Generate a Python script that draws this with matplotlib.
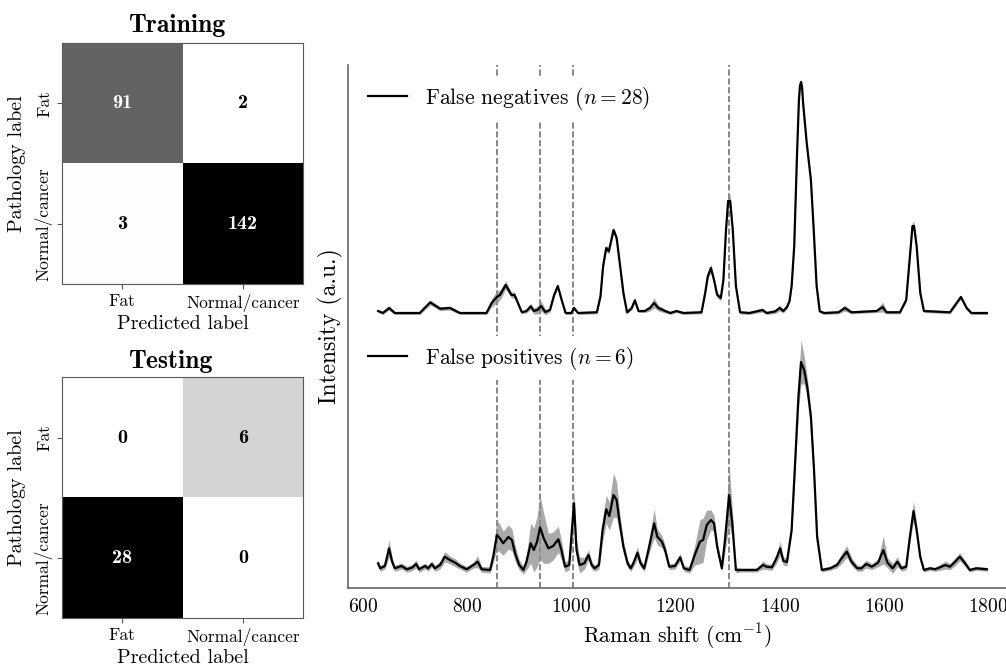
import numpy as np
import matplotlib
matplotlib.use('Agg')
import matplotlib.pyplot as plt
from matplotlib.lines import Line2D
from matplotlib.colors import PowerNorm

plt.rcParams['font.family'] = 'cmr10'
plt.rcParams['mathtext.fontset'] = 'cm'
plt.rcParams['axes.unicode_minus'] = False
plt.rcParams['axes.formatter.use_mathtext'] = True

# confusion matrices
class_names = ['Fat', 'Normal/cancer']
cm_train = np.array([[91, 2], [3, 142]])
cm_test = np.array([[0, 6], [28, 0]])

# mean spectra of the misclassified spectra (a.u.), with spread
fn_shift = [629, 638, 650, 661, 709, 729, 748, 767, 786, 837, 847, 857, 863, 874, 885, 891,
            895, 905, 914, 922, 928, 935, 942, 950, 959, 967, 974, 982, 989, 1000, 1005, 1013,
            1049, 1056, 1061, 1067, 1072, 1081, 1087, 1093, 1100, 1107, 1116, 1122, 1129, 1141,
            1151, 1159, 1167, 1180, 1190, 1202, 1215, 1250, 1257, 1262, 1268, 1274, 1280, 1287,
            1292, 1297, 1301, 1305, 1310, 1316, 1324, 1342,
            1367, 1375, 1391, 1400, 1407, 1414, 1419, 1423, 1428, 1433, 1437, 1439, 1441, 1443,
            1445, 1452, 1460, 1465, 1471, 1477, 1485, 1513, 1525, 1538, 1586, 1598, 1605, 1631,
            1643, 1649, 1655, 1658, 1663, 1670, 1677, 1727, 1737, 1748, 1759, 1768, 1798]
fn_mean = [2, 0, 5, 0, 0, 10.6, 4.3, 5, 0, 0, 10, 16, 18, 28, 18, 18,
           13, 0.7, 2, 6.7, 2, 3, 7, 1, 3, 18, 27, 12, 0, 0, 5, 0,
           0.7, 16.7, 46.7, 65, 61.7, 83, 75, 50, 20, 0.7, 5, 12.7, 2, 2,
           5, 10, 5, 2, 0, 2, 0, 0.7, 20, 36.7, 45, 33, 18, 15,
           33, 83, 112, 112, 83, 27, 0.7, 0,
           3, 0, 1.5, 5, 2, 6, 12, 27, 67, 153, 213, 227, 231, 226,
           210, 170, 133, 87, 27, 1.7, 0, 0.7, 5, 0.7, 2, 6, 0.7, 0.7,
           13, 50, 87, 87, 67, 20, 2, 0.7, 8, 16, 5, 0, 0]
fn_sd = [1.5, 1.5, 2, 1.5, 1.5, 2.5, 2, 2, 1.5, 1.5, 4, 6, 5, 4, 3, 3,
         2, 1.5, 2, 3, 3, 4, 5, 3, 2, 2, 2, 2, 1.5, 1.5, 2, 1.5,
         1.5, 2, 3, 3, 3, 3, 3, 2, 2, 1.5, 2, 2, 1.5, 1.5,
         3, 5, 3, 2, 1.5, 1.5, 1.5, 1.5, 2, 3, 4, 3, 3, 3,
         3, 4, 6, 6, 4, 2, 1.5, 1.5,
         2, 1.5, 2, 3, 2, 2, 2, 2, 2, 3, 3, 3, 3, 3,
         3, 2, 2, 2, 2, 1.5, 1.5, 1.5, 3, 1.5, 1.5, 5, 1.5, 1.5,
         2, 3, 4, 4, 3, 2, 1.5, 1.5, 2, 2, 2, 1.5, 1.5]

fp_shift = [629, 633, 642, 650, 656, 661, 674, 684, 694, 702, 708, 719, 725, 732, 738, 748,
            757, 767, 777, 786, 799, 812, 820, 828, 844, 850, 857, 863, 869, 879, 886, 892,
            900, 908, 914, 922, 928, 934, 940, 947, 956, 965, 975, 981, 988, 996,
            1005, 1010, 1016, 1025, 1033, 1039, 1045, 1053, 1060, 1067, 1073, 1081, 1087, 1093,
            1100, 1108, 1114, 1119, 1127, 1133, 1140, 1148, 1159, 1165, 1174, 1180, 1188, 1199,
            1209, 1216, 1227, 1237, 1247, 1253, 1260, 1268, 1274, 1280, 1289, 1295, 1303, 1309,
            1316, 1324,
            1356, 1368, 1375, 1385, 1394, 1401, 1407, 1414, 1423, 1429, 1436, 1441, 1447, 1453,
            1460, 1466, 1472, 1481, 1497, 1510, 1519, 1529, 1538, 1549, 1557, 1566, 1577, 1589,
            1599, 1607, 1617, 1626, 1634, 1643, 1650, 1657, 1663, 1670, 1677, 1689, 1698, 1708,
            1718, 1727, 1737, 1746, 1756, 1765, 1778, 1798]
fp_mean = [6.7, 1.7, 4, 21.7, 8.3, 1.7, 4, 0.7, 2.3, 6, 0.7, 4, 1.7, 6, 1.7, 5,
           13.3, 10, 7.3, 4, 0.7, 5, 8.3, 0.7, 0, 13.3, 35, 31.7, 26.7, 33, 30, 16.7,
           5, 0, 8.3, 26.7, 20, 28, 42.7, 31.7, 21.7, 24, 30.7, 20, 3.3, 5,
           66.7, 20, 5, 6.7, 15, 5, 1.7, 5, 40, 60.7, 54, 75, 70, 46.7,
           23.3, 6.7, 1.7, 6.7, 17.3, 6.7, 1.7, 20, 46.7, 33.3, 28.3, 20, 3.3, 4,
           12.7, 1.7, 0, 15, 28.3, 30, 45, 50, 46.7, 23.3, 1.7, 30, 75, 46.7,
           0, 0,
           0, 5, 3.3, 2.7, 11.7, 21.7, 9, 8, 40, 100, 173, 208, 200, 183,
           153, 100, 33, 0, 1.7, 5, 11.7, 18.3, 8.3, 1.7, 1.7, 6, 3.3, 7.3,
           20, 7.3, 1.7, 8.3, 1.7, 3.3, 33, 59, 40, 13, 0, 1.7, 0.7, 2.7,
           5, 3.3, 8.3, 13.3, 6.7, 0, 1.7, 0.7]
fp_sd = [3, 3, 3, 9, 4, 3, 3, 3, 3, 4, 3, 3, 3, 3, 3, 4,
         5, 4, 4, 3, 3, 3, 6, 3, 3, 6, 15, 14, 12, 12, 11, 8,
         5, 4, 8, 20, 22, 25, 32, 25, 15, 14, 13, 10, 5, 5,
         15, 10, 8, 6, 5, 4, 3, 4, 12, 14, 14, 22, 18, 10,
         6, 4, 3, 4, 6, 4, 3, 6, 14, 8, 6, 5, 3, 3,
         4, 3, 3, 10, 22, 22, 15, 10, 8, 6, 3, 12, 30, 15,
         3, 2,
         2, 4, 3, 3, 5, 7, 4, 4, 5, 8, 14, 22, 14, 10,
         8, 6, 5, 2, 2, 3, 5, 6, 4, 3, 3, 4, 3, 4,
         14, 5, 5, 5, 3, 3, 6, 10, 6, 3, 2, 2, 2, 3,
         4, 3, 4, 4, 3, 2, 2, 2]

marker_bands = [858, 940, 1004, 1303]
fn_offset = 257

fig = plt.figure(figsize=(10.06, 6.7), dpi=100)
W, H = 1006, 670


def draw_cm(ax, cm, title, title_y):
    ax.imshow(cm, cmap='Greys', norm=PowerNorm(0.85, vmin=cm.min(), vmax=cm.max()),
              aspect='auto')
    thresh = (cm.max() + cm.min()) / 2
    for i in range(2):
        for j in range(2):
            ax.text(j, i, str(cm[i, j]), ha='center', va='center', fontfamily='cmb10',
                    fontsize=14.5, color='white' if cm[i, j] > thresh else 'black')
    ax.set_xticks([0, 1])
    ax.set_xticklabels(class_names, fontsize=12.5)
    ax.set_yticks([0, 1])
    ax.set_yticklabels(class_names, fontsize=12.5, rotation=90, va='center')
    ax.set_xlabel('Predicted label', fontsize=14.5, labelpad=2)
    ax.set_ylabel('Pathology label', fontsize=14.5, labelpad=6)
    for s in ax.spines.values():
        s.set_color('0.35')
    ax.tick_params(color='0.35')
    fig.text(128 / W, 1 - title_y / H, title, fontfamily='cmb10', fontsize=18.5, va='baseline')


ax_tr = fig.add_axes([61.7 / W, (H - 284.3) / H, 241.6 / W, 241.6 / H])
draw_cm(ax_tr, cm_train, 'Training', 32)
ax_te = fig.add_axes([61.7 / W, (H - 618.3) / H, 241.6 / W, 241 / H])
draw_cm(ax_te, cm_test, 'Testing', 368)

# spectra
ax = fig.add_axes([348 / W, 82 / H, 658 / W, 523 / H])
fn_x = np.array(fn_shift)
fn_m = np.array(fn_mean) + fn_offset
fn_s = np.array(fn_sd)
fp_x = np.array(fp_shift)
fp_m = np.array(fp_mean)
fp_s = np.array(fp_sd)

for b in marker_bands:
    ax.axvline(b, color='0.45', ls='--', lw=1.2, zorder=1)

ax.fill_between(fn_x, fn_m - fn_s, fn_m + fn_s, color='0.55', alpha=0.75, lw=0, zorder=2)
ax.plot(fn_x, fn_m, color='black', lw=1.6, zorder=3, solid_joinstyle='round')
ax.fill_between(fp_x, fp_m - fp_s, fp_m + fp_s, color='0.55', alpha=0.75, lw=0, zorder=2)
ax.plot(fp_x, fp_m, color='black', lw=1.6, zorder=3, solid_joinstyle='round')

ax.set_xlim(571.2, 1834.6)
ax.set_ylim(-18, 505)
ax.set_xticks([600, 800, 1000, 1200, 1400, 1600, 1800])
ax.tick_params(axis='x', labelsize=14, length=0, pad=7)
ax.set_yticks([])
for s in ['top', 'right']:
    ax.spines[s].set_visible(False)
for s in ['left', 'bottom']:
    ax.spines[s].set_color('0.4')
    ax.spines[s].set_linewidth(1.2)
ax.set_xlabel(r'Raman shift (cm$^{-1}$)', fontsize=15.5, labelpad=4)
ax.set_ylabel('Intensity (a.u.)', fontsize=17)
ax.yaxis.set_label_coords(-0.007, 0.5)

h_fn = Line2D([], [], color='black', lw=1.6)
h_fp = Line2D([], [], color='black', lw=1.6)
leg_kw = dict(loc='center left', fontsize=15.5, frameon=True, facecolor='white',
              edgecolor='none', framealpha=1, handlelength=1.8, handletextpad=0.85,
              borderaxespad=0, fancybox=False)
leg1 = ax.legend([h_fn], [r'False negatives ($n=28$)'],
                 bbox_to_anchor=(0.0173, (588 - 98.3) / 523), **leg_kw)
ax.add_artist(leg1)
ax.legend([h_fp], [r'False positives ($n=6$)'],
          bbox_to_anchor=(0.0173, (588 - 358) / 523), **leg_kw)

fig.savefig('out.png', dpi=100)
